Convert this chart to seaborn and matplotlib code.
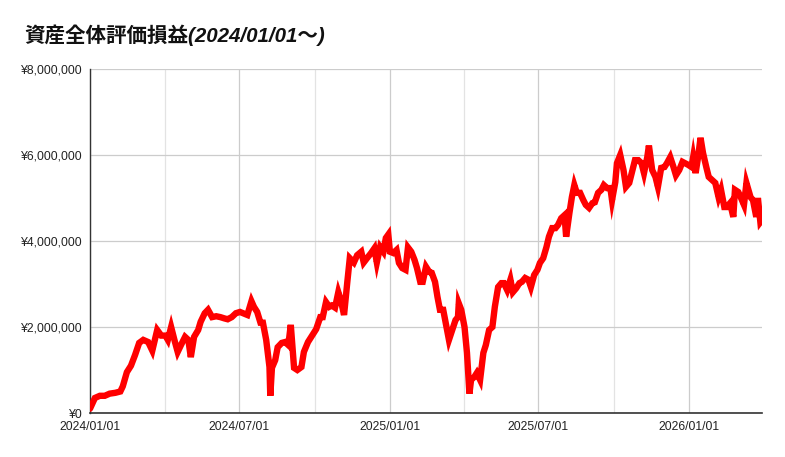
import matplotlib
matplotlib.use("Agg")
import matplotlib.pyplot as plt
import matplotlib.dates as mdates
import matplotlib.ticker as mticker
import numpy as np
import pandas as pd
import seaborn as sns

# ---- data ----
start_date = "2024-01-01"
# days elapsed since start_date
days = [0, 6, 12, 18, 24, 31, 37, 40, 45, 50, 55, 60, 65, 71, 76, 82, 87, 92, 95, 99,
        103, 107, 111, 116, 120, 123, 127, 132, 135, 140, 144, 149, 154, 159, 164, 168, 173, 178, 183, 187,
        192, 197, 200, 204, 208, 211, 215, 219, 220, 222, 226, 229, 234, 238, 242, 245, 249, 253, 258, 261,
        266, 271, 276, 281, 284, 288, 292, 295, 299, 303, 306, 310, 314, 317, 322, 326, 331, 334, 338, 343,
        347, 350, 354, 358, 361, 364, 366, 370, 374, 377, 381, 385, 388, 392, 396, 399, 403, 406, 410, 414,
        417, 421, 424, 427, 431, 435, 438, 442, 446, 449, 450, 453, 457, 460, 463, 465, 469, 472, 476, 480,
        483, 487, 491, 494, 498, 502, 505, 509, 513, 516, 520, 524, 527, 531, 535, 538, 542, 546, 549, 553,
        557, 560, 564, 568, 571, 575, 579, 581, 585, 588, 591, 594, 598, 602, 605, 609, 613, 616, 620, 624,
        627, 631, 635, 637, 641, 643, 647, 651, 654, 658, 662, 665, 669, 673, 676, 680, 682, 686, 690, 693,
        697, 701, 704, 708, 712, 715, 719, 723, 726, 730, 734, 736, 739, 742, 745, 748, 752, 755, 759, 763,
        767, 770, 774, 777, 781, 785, 787, 791, 794, 798, 801, 806, 809, 813, 815, 818, 820]
# valuation gain/loss in millions of yen
values_m = [0.10, 0.35, 0.40, 0.40, 0.45, 0.47, 0.50, 0.62, 0.95, 1.10, 1.35, 1.63, 1.70, 1.65, 1.45, 1.93, 1.80, 1.80, 1.70, 2.00,
            1.70, 1.42, 1.58, 1.77, 1.70, 1.30, 1.77, 1.93, 2.12, 2.32, 2.40, 2.23, 2.25, 2.23, 2.20, 2.18, 2.23, 2.32, 2.35, 2.32,
            2.28, 2.60, 2.47, 2.35, 2.10, 2.10, 1.70, 1.07, 0.40, 1.05, 1.23, 1.53, 1.63, 1.65, 1.58, 2.05, 1.05, 1.00, 1.07, 1.42,
            1.65, 1.80, 1.95, 2.23, 2.23, 2.58, 2.47, 2.50, 2.45, 2.81, 2.63, 2.28, 3.05, 3.60, 3.50, 3.67, 3.75, 3.50, 3.60, 3.72,
            3.83, 3.50, 3.86, 3.75, 4.07, 4.15, 3.75, 3.72, 3.79, 3.49, 3.37, 3.33, 3.85, 3.75, 3.56, 3.37, 3.05, 3.05, 3.40, 3.28,
            3.26, 3.05, 2.70, 2.40, 2.40, 2.00, 1.70, 1.93, 2.16, 2.23, 2.55, 2.40, 2.00, 1.40, 0.45, 0.77, 0.84, 0.93, 0.77, 1.40,
            1.58, 1.93, 2.00, 2.47, 2.93, 3.02, 3.02, 2.86, 3.10, 2.81, 2.90, 3.02, 3.05, 3.14, 3.10, 2.93, 3.21, 3.33, 3.49, 3.60,
            3.86, 4.10, 4.30, 4.30, 4.37, 4.53, 4.60, 4.10, 4.65, 5.02, 5.30, 5.12, 5.12, 4.95, 4.84, 4.77, 4.88, 4.90, 5.12, 5.19,
            5.30, 5.23, 5.23, 4.95, 5.37, 5.81, 6.00, 5.65, 5.26, 5.35, 5.65, 5.88, 5.88, 5.81, 5.58, 5.95, 6.22, 5.65, 5.49, 5.26,
            5.70, 5.72, 5.81, 5.95, 5.72, 5.53, 5.65, 5.84, 5.81, 5.77, 5.72, 5.95, 5.58, 5.95, 6.40, 6.05, 5.72, 5.49, 5.42, 5.35,
            5.02, 5.19, 4.79, 4.79, 4.88, 4.56, 5.19, 5.14, 5.02, 4.84, 5.35, 5.02, 4.95, 4.56, 5.00, 4.44, 4.49]
title_text = "資産全体評価損益(2024/01/01～)"
y_ticks = [0, 2_000_000, 4_000_000, 6_000_000, 8_000_000]
end_date = "2026-03-31"

df = pd.DataFrame({
    "date": pd.to_datetime(start_date) + pd.to_timedelta(days, unit="D"),
    "value": np.array(values_m) * 1_000_000,
})

# ---- style ----
sns.set_theme(style="white")
plt.rcParams["font.family"] = ["Liberation Sans", "Noto Sans CJK JP", "DejaVu Sans"]

fig = plt.figure(figsize=(7.85, 4.57), dpi=100)
ax = fig.add_axes([90 / 785, 1 - 413 / 457, (762 - 90) / 785, (413 - 69) / 457])

sns.lineplot(data=df, x="date", y="value", ax=ax, color="#ff0000",
             linewidth=4.6, solid_joinstyle="miter", zorder=3)

ax.set_xlim(pd.Timestamp(start_date), pd.Timestamp(end_date))
ax.set_ylim(0, 8_000_000)
ax.set_yticks(y_ticks)
ax.yaxis.set_major_formatter(mticker.FuncFormatter(lambda v, p: f"¥{v:,.0f}"))

ax.xaxis.set_major_locator(mdates.MonthLocator(bymonth=[1, 7]))
ax.xaxis.set_minor_locator(mdates.MonthLocator(bymonth=[4, 10]))
ax.xaxis.set_major_formatter(mdates.DateFormatter("%Y/%m/%d"))

ax.grid(True, which="major", axis="both", color="#cccccc", linewidth=0.9)
ax.grid(True, which="minor", axis="x", color="#e3e3e3", linewidth=0.9)
ax.set_axisbelow(True)

ax.tick_params(axis="both", which="both", length=0, labelsize=8.7, colors="#222222")
ax.tick_params(axis="y", pad=5)
ax.tick_params(axis="x", pad=6)
ax.set_xlabel("")
ax.set_ylabel("")

for s in ["top", "right"]:
    ax.spines[s].set_visible(False)
ax.spines["left"].set_color("#333333")
ax.spines["bottom"].set_color("#333333")
ax.spines["left"].set_linewidth(1.0)
ax.spines["bottom"].set_linewidth(1.2)

fig.text(24 / 785, 1 - 35 / 457, title_text, fontsize=14.8, fontweight="bold", fontstyle="italic",
         family=["Liberation Sans", "Noto Sans CJK JP", "DejaVu Sans"],
         va="center", ha="left", color="#111111")

fig.savefig("out.png", dpi=100)
